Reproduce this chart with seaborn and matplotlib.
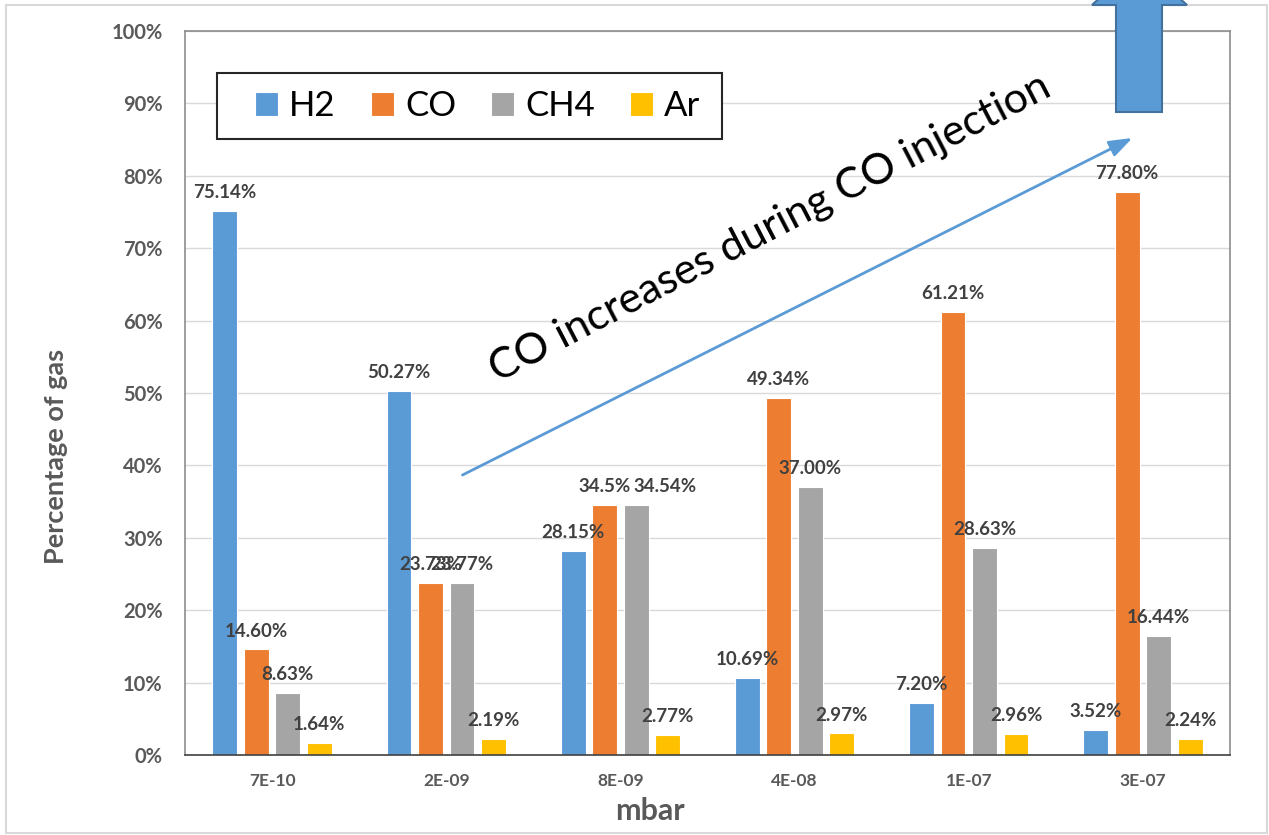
import matplotlib
matplotlib.use("Agg")
import matplotlib.pyplot as plt
from matplotlib.patches import Rectangle, Polygon
import seaborn as sns
import pandas as pd

# Gas composition (percent) at each chamber pressure
pressures = ["7E-10", "2E-09", "8E-09", "4E-08", "1E-07", "3E-07"]
gases = ["H2", "CO", "CH4", "Ar"]
h2_pct = ["75.14", "50.27", "28.15", "10.69", "7.20", "3.52"]
co_pct = ["14.60", "23.73", "34.5", "49.34", "61.21", "77.80"]
ch4_pct = ["8.63", "23.77", "34.54", "37.00", "28.63", "16.44"]
ar_pct = ["1.64", "2.19", "2.77", "2.97", "2.96", "2.24"]
y_ticks = list(range(0, 101, 10))
colors = ["#5B9BD5", "#ED7D31", "#A5A5A5", "#FFC000"]

series = {"H2": h2_pct, "CO": co_pct, "CH4": ch4_pct, "Ar": ar_pct}
rows = [(p, g, float(v)) for g in gases for p, v in zip(pressures, series[g])]
df = pd.DataFrame(rows, columns=["mbar", "gas", "pct"])

sns.set_theme(style="white")
plt.rcParams["font.family"] = ["Lato", "DejaVu Sans"]

W, H = 1269, 835


def fx(x):
    return x / W


def fy(y):
    return 1 - y / H


fig = plt.figure(figsize=(W / 100, H / 100), dpi=100)
ax = fig.add_axes([fx(185), fy(755), (1230 - 185) / W, (755 - 31) / H])

sns.barplot(data=df, x="mbar", y="pct", hue="gas", order=pressures,
            hue_order=gases, palette=colors, width=0.724, gap=0.215,
            edgecolor="white", linewidth=0.8, saturation=1,
            errorbar=None, ax=ax)

# value labels above the bars
for container, g in zip(ax.containers, gases):
    texts = ax.bar_label(container, labels=[v + "%" for v in series[g]],
                         padding=7, fontsize=13.5, fontweight="bold",
                         color="#404040")
    if g == "CH4":
        # nudge the 8E-09 label so it sits beside the CO one
        texts[2].xyann = (21, 7)

ax.set_xlim(-0.5, 5.5)
ax.set_ylim(0, 100)
ax.set_yticks(y_ticks)
ax.set_yticklabels([f"{t}%" for t in y_ticks])
ax.yaxis.grid(True, color="#d9d9d9", lw=1)
ax.set_axisbelow(True)
ax.set_xlabel("")
ax.set_ylabel("")
ax.tick_params(axis="y", length=0, pad=16, labelsize=14.5, labelcolor="#595959")
ax.tick_params(axis="x", length=0, pad=13, labelsize=12.5, labelcolor="#595959")
for lab in ax.get_xticklabels() + ax.get_yticklabels():
    lab.set_fontweight("bold")
for side in ["top", "right", "left"]:
    ax.spines[side].set_color("#8c8c8c")
    ax.spines[side].set_linewidth(1.2)
ax.spines["bottom"].set_color("#404040")
ax.spines["bottom"].set_linewidth(1.2)

# legend with a boxed frame
handles, labels = ax.get_legend_handles_labels()
ax.legend(handles, labels, ncol=4, frameon=False, loc="center left",
          bbox_to_anchor=(fx(255), fy(106)), bbox_transform=fig.transFigure,
          borderpad=0, borderaxespad=0, fontsize=25, handlelength=0.66,
          handleheight=0.66, handletextpad=0.33, columnspacing=1.0,
          labelcolor="black")
ax.add_patch(Rectangle((fx(217), fy(139)), (722 - 217) / W, (139 - 73) / H,
                       transform=fig.transFigure, facecolor="white",
                       edgecolor="#262626", lw=1.5, zorder=4, clip_on=False))

# trend arrow and its caption
ax.annotate("", xy=(4.954, 85.4), xytext=(1.079, 38.5),
            arrowprops=dict(arrowstyle="-|>,head_length=0.7,head_width=0.25",
                            color="#5B9BD5", lw=2, mutation_scale=20),
            annotation_clip=False)
fig.text(fx(770), fy(228), "CO increases during CO injection", rotation=27.4,
         rotation_mode="anchor", ha="center", va="center", fontsize=31,
         color="black")

# big upward block arrow
block = [(1116, 112), (1162, 112), (1162, 5), (1187, 5), (1139, -38),
         (1092, 5), (1116, 5)]
fig.add_artist(Polygon([(fx(x), fy(y)) for x, y in block], closed=True,
                       transform=fig.transFigure, facecolor="#5B9BD5",
                       edgecolor="#41719C", lw=1.5, zorder=10))

fig.text(fx(56), fy(456), "Percentage of gas", rotation=90, ha="center",
         va="center", fontsize=19.5, fontweight="bold", color="#595959")
fig.text(fx(650), fy(820), "mbar", ha="center", va="baseline", fontsize=22,
         fontweight="bold", color="#595959")

fig.add_artist(Rectangle((fx(6), fy(833)), (1267 - 6) / W, (833 - 5) / H,
                         transform=fig.transFigure, fill=False,
                         edgecolor="#d9d9d9", lw=1.5))

fig.savefig("out.png", dpi=100)
